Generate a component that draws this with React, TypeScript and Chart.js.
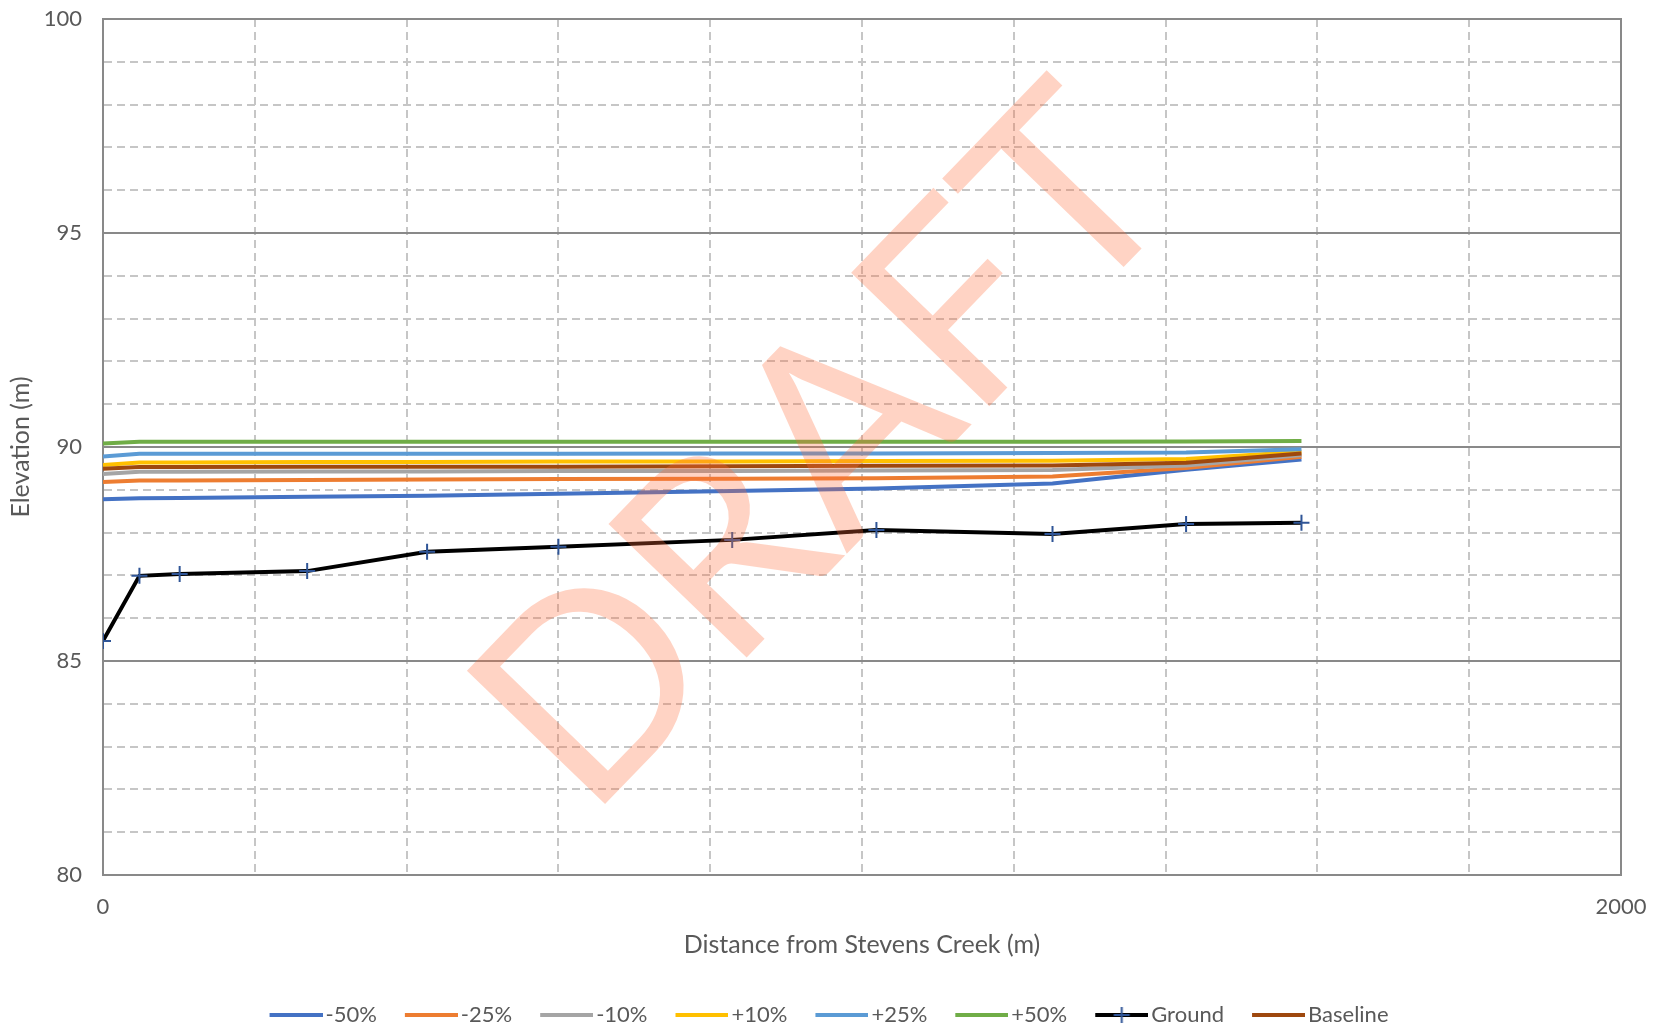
import React, { useEffect, useRef } from "react";
import { Chart, registerables } from "chart.js";

Chart.register(...registerables);

// ---- data ----
const distances = [0, 48, 101, 269, 427, 600, 829, 1019, 1251, 1427, 1579];
const minus50 = [88.78, 88.8, 88.81, 88.84, 88.86, 88.91, 88.97, 89.03, 89.15, 89.47, 89.71];
const minus25 = [89.18, 89.22, 89.22, 89.23, 89.24, 89.25, 89.26, 89.27, 89.31, 89.51, 89.77];
const minus10 = [89.37, 89.42, 89.42, 89.43, 89.43, 89.44, 89.44, 89.45, 89.46, 89.57, 89.81];
const plus10 = [89.58, 89.64, 89.64, 89.65, 89.65, 89.66, 89.66, 89.67, 89.68, 89.72, 89.89];
const plus25 = [89.78, 89.84, 89.84, 89.84, 89.84, 89.84, 89.85, 89.85, 89.86, 89.87, 89.95];
const plus50 = [90.08, 90.12, 90.12, 90.12, 90.12, 90.12, 90.12, 90.12, 90.12, 90.13, 90.14];
const ground = [85.47, 86.99, 87.03, 87.1, 87.55, 87.67, 87.83, 88.06, 87.97, 88.2, 88.23];
const baseline = [89.49, 89.53, 89.53, 89.54, 89.54, 89.54, 89.55, 89.56, 89.57, 89.63, 89.85];

const seriesLabels = ["-50%", "-25%", "-10%", "+10%", "+25%", "+50%", "Ground", "Baseline"];
const seriesValues = [minus50, minus25, minus10, plus10, plus25, plus50, ground, baseline];
const seriesColors = ["#4472C4", "#ED7D31", "#A5A5A5", "#FFC000", "#5B9BD5", "#70AD47", "#000000", "#9E480E"];

const yLabelValues = [80, 85, 90, 95, 100];
const xLabelValues = [0, 2000];

const FONT = "Lato";
const TEXT = "#595959";
const MAJOR = "#898989";
const MINOR = "#C6C6C6";
const MARKER = "#2F5597";

// legend sample: 53px line, box width 45 so the text sits close to the line
const LEG_BOX = 45;
const LEG_LINE = 53;
const LEG_FONT = 22;

function makeLegendSample(color: string, cross: boolean): HTMLCanvasElement {
  const c = document.createElement("canvas");
  const half = LEG_LINE - LEG_BOX / 2;
  c.width = Math.round(half * 2);
  c.height = 18;
  const g = c.getContext("2d")!;
  const x0 = c.width - LEG_LINE;
  g.strokeStyle = color;
  g.lineWidth = 4;
  g.beginPath();
  g.moveTo(x0, 9);
  g.lineTo(c.width, 9);
  g.stroke();
  if (cross) {
    const cx = x0 + LEG_LINE / 2;
    g.strokeStyle = MARKER;
    g.lineWidth = 2;
    g.beginPath();
    g.moveTo(cx - 8, 9);
    g.lineTo(cx + 8, 9);
    g.moveTo(cx, 1);
    g.lineTo(cx, 17);
    g.stroke();
  }
  return c;
}

const watermarkPlugin = {
  id: "draftWatermark",
  afterDatasetsDraw(chart: any) {
    const { ctx, chartArea } = chart;
    const cx = chartArea.left + (chartArea.right - chartArea.left) * 0.476;
    const cy = chartArea.top + (chartArea.bottom - chartArea.top) * 0.505;
    ctx.save();
    ctx.translate(cx, cy);
    ctx.rotate((-46 * Math.PI) / 180);
    ctx.font = `268px "${FONT}"`;
    ctx.fillStyle = "rgba(255,110,60,0.3)";
    ctx.textAlign = "center";
    ctx.textBaseline = "middle";
    ctx.fillText("DRAFT", 0, 0);
    ctx.restore();
  },
};

const legendCenterPlugin = {
  id: "legendCenter",
  afterLayout(chart: any) {
    const lg = chart.legend;
    if (!lg) return;
    lg.left = 0;
    lg.right = chart.width;
    lg.width = chart.width;
  },
};

export default function App() {
  const ref = useRef<HTMLCanvasElement | null>(null);

  useEffect(() => {
    if (!ref.current) return;
    const samples = seriesLabels.map((l, i) => makeLegendSample(seriesColors[i], l === "Ground"));
    const datasets = seriesLabels.map((label, i) => {
      const isGround = label === "Ground";
      return {
        label,
        data: distances.map((d, j) => ({ x: d, y: seriesValues[i][j] })),
        borderColor: seriesColors[i],
        backgroundColor: seriesColors[i],
        borderWidth: 4,
        pointRadius: isGround ? 8 : 0,
        pointStyle: isGround ? "cross" : "circle",
        pointBorderColor: MARKER,
        pointBorderWidth: 2,
        tension: 0,
        order: seriesLabels.length - i,
      };
    });

    const chart = new Chart(ref.current, {
      type: "line",
      data: { datasets },
      plugins: [watermarkPlugin, legendCenterPlugin],
      options: {
        animation: false,
        responsive: false,
        maintainAspectRatio: false,
        devicePixelRatio: 1,
        layout: { padding: { left: 0, right: 37, top: 19, bottom: -6 } },
        plugins: {
          tooltip: { enabled: false },
          legend: {
            position: "bottom",
            labels: {
              font: { family: FONT, size: LEG_FONT },
              color: TEXT,
              usePointStyle: true,
              pointStyleWidth: LEG_BOX,
              padding: 28,
              sort: (a: any, b: any) => a.datasetIndex - b.datasetIndex,
              generateLabels: (c: any) => {
                const items = Chart.defaults.plugins.legend.labels.generateLabels(c);
                return items.map((it: any) => ({
                  ...it,
                  pointStyle: samples[it.datasetIndex],
                  lineWidth: 0,
                }));
              },
            },
          },
        },
        scales: {
          x: {
            type: "linear",
            position: "bottom",
            min: 0,
            max: 2000,
            afterFit: (s: any) => {
              s.height = 101;
              s.paddingLeft = 0;
              s.paddingRight = 0;
            },
            ticks: {
              stepSize: 200,
              autoSkip: false,
              maxRotation: 0,
              padding: 19,
              font: { family: FONT, size: 22 },
              color: TEXT,
              callback: (v: any) => (xLabelValues.includes(Number(v)) ? String(v) : ""),
            },
            grid: {
              drawTicks: false,
              lineWidth: 2,
              color: (ctx: any) =>
                ctx.tick && xLabelValues.includes(ctx.tick.value) ? "rgba(0,0,0,0)" : MINOR,
            },
            border: { display: true, color: MAJOR, width: 2, dash: [8, 5] },
            title: {
              display: true,
              text: "Distance from Stevens Creek (m)",
              font: { family: FONT, size: 25 },
              color: TEXT,
              padding: { top: 0, bottom: 16 },
            },
          },
          xTop: {
            type: "linear",
            position: "top",
            min: 0,
            max: 2000,
            afterFit: (s: any) => {
              s.height = 0;
              s.paddingLeft = 0;
              s.paddingRight = 0;
            },
            ticks: { display: false },
            grid: { display: false, drawTicks: false },
            border: { display: true, color: MAJOR, width: 2 },
          },
          y: {
            type: "linear",
            position: "left",
            min: 80,
            max: 100,
            afterFit: (s: any) => {
              s.width = 103;
              s.paddingTop = 0;
              s.paddingBottom = 0;
            },
            ticks: {
              stepSize: 1,
              autoSkip: false,
              padding: 21,
              font: { family: FONT, size: 22 },
              color: TEXT,
              callback: (v: any) => (yLabelValues.includes(Number(v)) ? String(v) : ""),
            },
            grid: {
              drawTicks: false,
              lineWidth: 2,
              color: (ctx: any) =>
                ctx.tick && Number(ctx.tick.value) % 5 === 0 ? "rgba(0,0,0,0)" : MINOR,
            },
            border: { display: true, color: MAJOR, width: 2, dash: [8, 5] },
            title: {
              display: true,
              text: "Elevation (m)",
              font: { family: FONT, size: 25 },
              color: TEXT,
              padding: { top: 6, bottom: 0 },
            },
          },
          yMajor: {
            type: "linear",
            position: "right",
            min: 80,
            max: 100,
            afterFit: (s: any) => {
              s.width = 0;
              s.paddingTop = 0;
              s.paddingBottom = 0;
            },
            ticks: { display: false, stepSize: 5 },
            grid: {
              drawTicks: false,
              lineWidth: 2,
              color: (ctx: any) =>
                ctx.tick && (ctx.tick.value === 80 || ctx.tick.value === 100) ? "rgba(0,0,0,0)" : MAJOR,
            },
            border: { display: true, color: MAJOR, width: 2 },
          },
        },
      } as any,
    });
    return () => chart.destroy();
  }, []);

  return (
    <div style={{ position: "absolute", left: 0, top: 0, width: 1658, height: 1030, background: "#fff" }}>
      <canvas ref={ref} width={1658} height={1030} style={{ width: 1658, height: 1030, display: "block" }} />
    </div>
  );
}
